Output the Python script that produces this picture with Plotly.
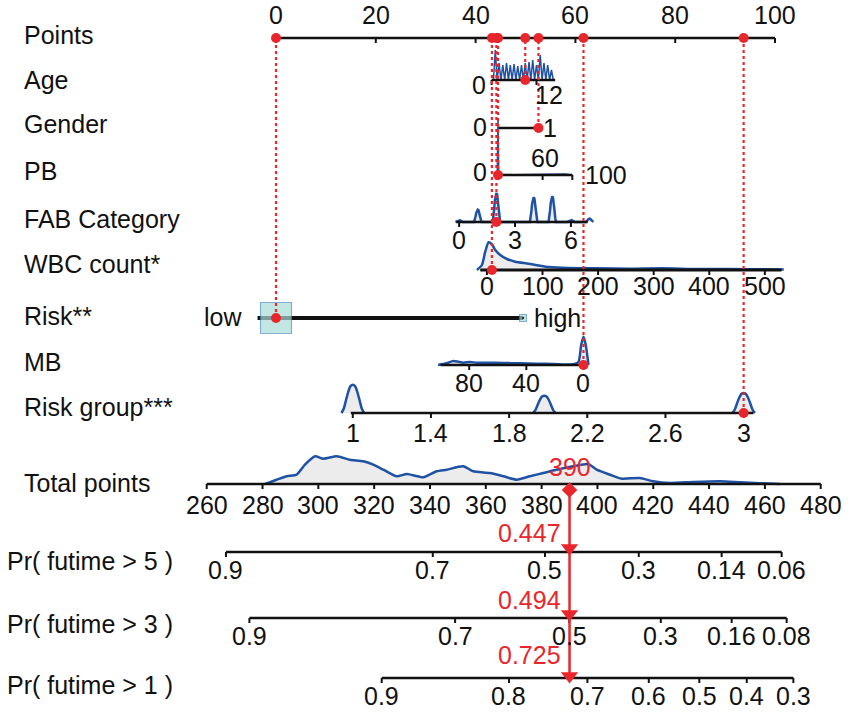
import numpy as np
import plotly.graph_objects as go

# ---------------------------------------------------------------- data
points_ticks = [0, 20, 40, 60, 80, 100]

age_ticks = [0, 12]
age_tick_points = [43.2, 52.2]
age_axis_range = [0, 17]
age_density_values = [1, 2, 3, 4, 5, 6, 7, 8, 9, 10, 11, 12, 13, 14, 15, 16]
age_density_heights = [30, 17, 15, 17, 15, 16, 14, 15, 17, 18, 20, 15, 25, 17, 15, 10]

gender_ticks = [0, 1]
gender_tick_points = [44.5, 52.6]

pb_ticks = [0, 60, 100]
pb_tick_points = [44.5, 53.4, 59.4]
pb_density_values = [-1, 0, 1, 5, 20, 40, 60, 70, 80, 90, 100]
pb_density_heights = [0, 57, 0, 0.5, 0.3, 0.5, 1, 1, 1, 1, 0]

fab_ticks = [0, 3, 6]
fab_tick_points = [36.7, 47.9, 59.1]
fab_axis_range = [-0.15, 6.9]
fab_peak_values = [0, 1, 2, 4, 5, 6, 7]
fab_peak_heights = [1.7, 12.3, 29, 24.7, 25.7, 2, 3.3]

wbc_ticks = [0, 100, 200, 300, 400, 500]
wbc_tick_points = [42.5, 53.3, 64.3, 75.6, 87.0, 98.0]
wbc_axis_range = [-12, 530]
wbc_density_values = [-18, -9, -3, 3, 9, 15, 24, 36, 51, 75, 106, 136, 196, 256, 316, 376, 436, 498, 534]
wbc_density_heights = [0, 5, 18.3, 27.7, 25.7, 20, 15, 11, 8.3, 6.3, 3.3, 2.3, 1.7, 1.3, 1.7, 1, 1, 0.7, 0.5]

risk_levels = ["low", "high"]
risk_points = [0, 49.5]

mb_ticks = [80, 40, 0]
mb_tick_points = [38.7, 50.2, 61.6]
mb_axis_range = [100, 0]
mb_density_values = [101.8, 95.9, 91.2, 87.7, 84.2, 79.5, 74.8, 67.8, 56.1, 44.4, 32.7, 21.1, 7, 3.5, 1.6, 0, -1.6, -3.5]
mb_density_heights = [0, 1.7, 4, 3.3, 2.3, 3, 2.3, 2.3, 2, 1.7, 1.3, 1, 0.7, 3, 20, 28.3, 20, 0]

rg_ticks = [1, 1.4, 1.8, 2.2, 2.6, 3]
rg_tick_points = [15.5, 31.0, 46.7, 62.2, 78.1, 93.8]
rg_axis_range = [0.99, 3.05]
rg_peak_values = [1, 1.98, 3]
rg_peak_heights = [28.3, 17.3, 20]

total_ticks = [260, 280, 300, 320, 340, 360, 380, 400, 420, 440, 460, 480]
total_density_values = [280.9, 285.1, 288.7, 292.2, 295.2, 298.8, 301.8, 306.6, 311.3, 316.1,
                        319.7, 323.3, 328.1, 331.7, 337.6, 342.4, 346.0, 351.9, 355.5, 361.5,
                        366.3, 371.1, 375.8, 380.6, 385.4, 391.3, 396.7, 399.7, 404.5, 408.7,
                        415.2, 420.0, 426.0, 434.3, 443.9, 451.1, 458.2, 465.4]
total_density_heights = [0, 4.3, 7.7, 9.3, 19.3, 27.7, 25.3, 27.7, 24.3, 22.7,
                         19.3, 14.3, 7.7, 10, 6.7, 12.7, 14.3, 17.7, 12.7, 11,
                         7.7, 4.3, 7.7, 11, 14.3, 17.7, 20, 14.3, 9.3, 5.3,
                         6, 2.7, 1, 2, 2.7, 1.7, 0.7, 0]

pr5_labels = ["0.9", "0.7", "0.5", "0.3", "0.14", "0.06"]
pr5_total_points = [266.9, 341.0, 381.2, 414.8, 444.5, 466.0]
pr3_labels = ["0.9", "0.7", "0.5", "0.3", "0.16", "0.08"]
pr3_total_points = [275.3, 349.0, 389.9, 422.7, 448.1, 467.8]
pr1_labels = ["0.9", "0.8", "0.7", "0.6", "0.5", "0.4", "0.3"]
pr1_total_points = [322.7, 368.3, 396.4, 418.4, 436.5, 453.5, 470.2]

obs_age = 9
obs_gender = 1
obs_pb = 0
obs_fab = 2
obs_wbc = 9
obs_risk = "low"
obs_mb = 0
obs_rg = 3
obs_total = 390
obs_probs = ["0.447", "0.494", "0.725"]

row_names = ["Points", "Age", "Gender", "PB", "FAB Category", "WBC count*", "Risk**", "MB",
             "Risk group***", "Total points", "Pr( futime > 5 )", "Pr( futime > 3 )", "Pr( futime > 1 )"]

# ---------------------------------------------------------------- layout constants
W, H = 851, 714
PX_PER_PT, X0_PX = 4.99, 276.0
X_RANGE = [-X0_PX / PX_PER_PT, (W - X0_PX) / PX_PER_PT]
PX_PER_TP, TP0, TP0_PX = 2.791, 260.0, 206.7
X2_RANGE = [TP0 - TP0_PX / PX_PER_TP, TP0 + (W - TP0_PX) / PX_PER_TP]

ROW_Y = dict(points=38, age=80, gender=128, pb=175, fab=222, wbc=270, risk=318, mb=365,
             rg=413, total=484, pr5=552, pr3=618, pr1=678)
NAME_Y = [35, 80, 124, 171, 219, 264, 316, 362, 407, 483, 561, 624, 685]
NAME_X = [22, 22, 22, 22, 22, 22, 22, 22, 22, 22, 5, 5, 5]

BLUE = "#1f52a3"
RED = "#e8262b"
FILL = "#ececec"
BLACK = "#111111"
FONT = "Liberation Sans, Arial, Helvetica, sans-serif"
TICK_FS = 25
NAME_FS = 25

fig = go.Figure()
annotations = []


def lin(ticks, pts):
    b, a = np.polyfit(np.asarray(ticks, float), np.asarray(pts, float), 1)
    return lambda v: a + b * np.asarray(v, dtype=float)


def add_line(xs, ys, xaxis="x", width=2.5, color=BLACK, dash=None, shape="linear"):
    fig.add_trace(go.Scatter(x=list(xs), y=list(ys), xaxis=xaxis, yaxis="y", mode="lines",
                             line=dict(color=color, width=width, dash=dash, shape=shape),
                             hoverinfo="skip", showlegend=False))


def add_axis(x_from, x_to, tick_x, y, xaxis="x", width=2.5, tick_len=5):
    add_line([x_from, x_to], [y, y], xaxis, width)
    tx, ty = [], []
    for t in tick_x:
        tx += [float(t), float(t), None]
        ty += [y, y + tick_len, None]
    add_line(tx, ty, xaxis, 2)


def add_density(xs, hs, y, xaxis="x", fill=True, shape="spline", width=2.5):
    ys = [y - h for h in hs]
    fig.add_trace(go.Scatter(x=list(np.asarray(xs, float)), y=ys, xaxis=xaxis, yaxis="y",
                             mode="lines",
                             line=dict(color=BLUE, width=width, shape=shape, smoothing=0.6),
                             fill="toself" if fill else None, fillcolor=FILL,
                             hoverinfo="skip", showlegend=False))


def label(x, y, text, xref="x", size=TICK_FS, color=BLACK, xanchor="center", xshift=0):
    annotations.append(dict(x=x, y=y, xref=xref, yref="y", text=text, showarrow=False,
                            font=dict(family=FONT, size=size, color=color),
                            xanchor=xanchor, yanchor="middle", xshift=xshift))


BUMP_OFF = [-1, -0.8, -0.6, -0.4, -0.2, 0, 0.2, 0.4, 0.6, 0.8, 1]
BUMP_FRAC = [0, 0.15, 0.45, 0.75, 0.95, 1, 0.95, 0.75, 0.45, 0.15, 0]


def bumps(centers, heights, hw):
    xs, hs = [], []
    for c, h in zip(centers, heights):
        for o, f in zip(BUMP_OFF, BUMP_FRAC):
            xs.append(c + o * hw)
            hs.append(h * f)
    return xs, hs


# ---------------------------------------------------------------- maps
age_map = lin(age_ticks, age_tick_points)
gender_map = lin(gender_ticks, gender_tick_points)
pb_map = lin(pb_ticks, pb_tick_points)
fab_map = lin(fab_ticks, fab_tick_points)
wbc_map = lin(wbc_ticks, wbc_tick_points)
mb_map = lin(mb_ticks, mb_tick_points)
rg_map = lin(rg_ticks, rg_tick_points)

# ---------------------------------------------------------------- Points
y = ROW_Y["points"]
add_axis(points_ticks[0], points_ticks[-1], points_ticks, y)
for t in points_ticks:
    label(t, 15, str(t))

# ---------------------------------------------------------------- Age
y = ROW_Y["age"]
ax, ah = [], []
for v, h in zip(age_density_values, age_density_heights):
    ax += [v - 0.5, v]
    ah += [0, h]
ax.append(age_density_values[-1] + 0.5)
ah.append(0)
add_density(age_map(ax), ah, y, fill=False, shape="linear", width=1.5)
add_axis(age_map(age_axis_range[0]), age_map(age_axis_range[1]), age_map(age_ticks), y)
label(float(age_map(0)), y + 5, "0", xshift=-13)
label(float(age_map(12)), y + 15, "12", xshift=13)

# ---------------------------------------------------------------- Gender
y = ROW_Y["gender"]
add_axis(gender_map(0), gender_map(1), [], y)
label(float(gender_map(0)), y - 1, "0", xshift=-18)
label(float(gender_map(1)), y, "1", xshift=12)

# ---------------------------------------------------------------- PB
y = ROW_Y["pb"]
add_density(pb_map(pb_density_values), pb_density_heights, y, fill=False, shape="linear", width=1.5)
add_axis(pb_map(pb_ticks[0]), pb_map(pb_ticks[-1]), pb_map(pb_ticks), y)
label(float(pb_map(0)), y - 3, "0", xshift=-18)
label(float(pb_map(60)), y - 17, "60", xshift=2)
label(float(pb_map(100)), y, "100", xshift=34)

# ---------------------------------------------------------------- FAB
y = ROW_Y["fab"]
fx, fh = bumps(fab_peak_values, fab_peak_heights, 0.2)
add_density(fab_map(fx), fh, y, fill=True, shape="linear")
add_axis(fab_map(fab_axis_range[0]), fab_map(fab_axis_range[1]), fab_map(fab_ticks), y)
for t in fab_ticks:
    label(float(fab_map(t)), y + 18, str(t))

# ---------------------------------------------------------------- WBC
y = ROW_Y["wbc"]
add_density(wbc_map(wbc_density_values), wbc_density_heights, y)
add_axis(wbc_map(wbc_axis_range[0]), wbc_map(wbc_axis_range[1]), wbc_map(wbc_ticks), y, width=3)
for t in wbc_ticks:
    label(float(wbc_map(t)), y + 16, str(t))

# ---------------------------------------------------------------- Risk
y = ROW_Y["risk"]
add_line([risk_points[0] - 3.7, risk_points[1]], [y, y], width=4)
fig.add_trace(go.Scatter(x=risk_points, y=[y, y], mode="markers", hoverinfo="skip", showlegend=False,
                         marker=dict(symbol="square", size=[31, 7], color="#a9dcd5",
                                     line=dict(color="#4f8fbf", width=1.2))))
fig.add_trace(go.Scatter(x=[risk_points[1]], y=[y], mode="markers", hoverinfo="skip", showlegend=False,
                         marker=dict(symbol="circle", size=2.5, color="#333333")))
label(risk_points[0], y - 1, risk_levels[0], xanchor="right", xshift=-32)
label(risk_points[1], y, risk_levels[1], xanchor="left", xshift=9)

# ---------------------------------------------------------------- MB
y = ROW_Y["mb"]
add_density(mb_map(mb_density_values), mb_density_heights, y)
add_axis(mb_map(mb_axis_range[0]), mb_map(mb_axis_range[1]), mb_map(mb_ticks), y)
for t in mb_ticks:
    label(float(mb_map(t)), y + 18, str(t))

# ---------------------------------------------------------------- Risk group
y = ROW_Y["rg"]
rx, rh = bumps(rg_peak_values, rg_peak_heights, 0.058)
for i in range(len(rg_peak_values)):
    sl = slice(i * len(BUMP_OFF), (i + 1) * len(BUMP_OFF))
    add_density(rg_map(rx[sl]), rh[sl], y, shape="spline")
add_axis(rg_map(rg_axis_range[0]), rg_map(rg_axis_range[1]), rg_map(rg_ticks), y)
for t in rg_ticks:
    label(float(rg_map(t)), y + 20, f"{t:g}")

# ---------------------------------------------------------------- Total points
y = ROW_Y["total"]
add_density(total_density_values, total_density_heights, y, xaxis="x2")
add_axis(total_ticks[0], total_ticks[-1], total_ticks, y, xaxis="x2")
for t in total_ticks:
    label(t, y + 21, str(t), xref="x2")

# ---------------------------------------------------------------- probability axes
for key, labs, tps in [("pr5", pr5_labels, pr5_total_points),
                       ("pr3", pr3_labels, pr3_total_points),
                       ("pr1", pr1_labels, pr1_total_points)]:
    y = ROW_Y[key]
    add_axis(tps[0], tps[-1], tps, y, xaxis="x2")
    for lab, tp in zip(labs, tps):
        label(tp, y + 18, lab, xref="x2")

# ---------------------------------------------------------------- observation (red)
obs_pts = [
    (float(age_map(obs_age)), ROW_Y["age"]),
    (float(gender_map(obs_gender)), ROW_Y["gender"]),
    (float(pb_map(obs_pb)), ROW_Y["pb"]),
    (float(fab_map(obs_fab)), ROW_Y["fab"]),
    (float(wbc_map(obs_wbc)), ROW_Y["wbc"]),
    (risk_points[risk_levels.index(obs_risk)], ROW_Y["risk"]),
    (float(mb_map(obs_mb)), ROW_Y["mb"]),
    (float(rg_map(obs_rg)), ROW_Y["rg"]),
]
lx, ly = [], []
for px_, py_ in obs_pts:
    lx += [px_, px_, None]
    ly += [py_, ROW_Y["points"], None]
add_line(lx, ly, width=2.2, color=RED, dash="dot")
fig.add_trace(go.Scatter(x=[p[0] for p in obs_pts] * 2,
                         y=[p[1] for p in obs_pts] + [ROW_Y["points"]] * len(obs_pts),
                         mode="markers", hoverinfo="skip", showlegend=False,
                         marker=dict(color=RED, size=10)))

# arrow from total points down through the probability axes
add_line([obs_total, obs_total], [ROW_Y["total"] + 6, ROW_Y["pr1"] + 2], xaxis="x2", width=2.5, color=RED)
fig.add_trace(go.Scatter(x=[obs_total], y=[ROW_Y["total"] + 6], xaxis="x2", yaxis="y", mode="markers",
                         hoverinfo="skip", showlegend=False,
                         marker=dict(symbol="diamond", size=12, color=RED)))
fig.add_trace(go.Scatter(x=[obs_total] * 3, y=[ROW_Y["pr5"] - 4, ROW_Y["pr3"] - 4, ROW_Y["pr1"] - 2],
                         xaxis="x2", yaxis="y", mode="markers", hoverinfo="skip", showlegend=False,
                         marker=dict(symbol="triangle-down", size=15, color=RED)))
label(obs_total, 467, str(obs_total), xref="x2", color=RED)
for txt, yy in zip(obs_probs, [533, 600, 655]):
    label(obs_total, yy, txt, xref="x2", color=RED, xanchor="right", xshift=-7)

# ---------------------------------------------------------------- row names
for name, nx, ny in zip(row_names, NAME_X, NAME_Y):
    annotations.append(dict(x=nx / W, y=ny, xref="paper", yref="y", text=name, showarrow=False,
                            font=dict(family=FONT, size=NAME_FS, color=BLACK),
                            xanchor="left", yanchor="middle"))

fig.update_layout(
    width=W, height=H, margin=dict(l=0, r=0, t=0, b=0),
    paper_bgcolor="white", plot_bgcolor="white", showlegend=False,
    xaxis=dict(range=X_RANGE, visible=False, fixedrange=True),
    xaxis2=dict(range=X2_RANGE, visible=False, overlaying="x", fixedrange=True),
    yaxis=dict(range=[H, 0], visible=False, fixedrange=True),
    annotations=annotations,
)

fig.write_html("out.html", config={"displayModeBar": False},
               post_script="document.body.style.margin='0';")
